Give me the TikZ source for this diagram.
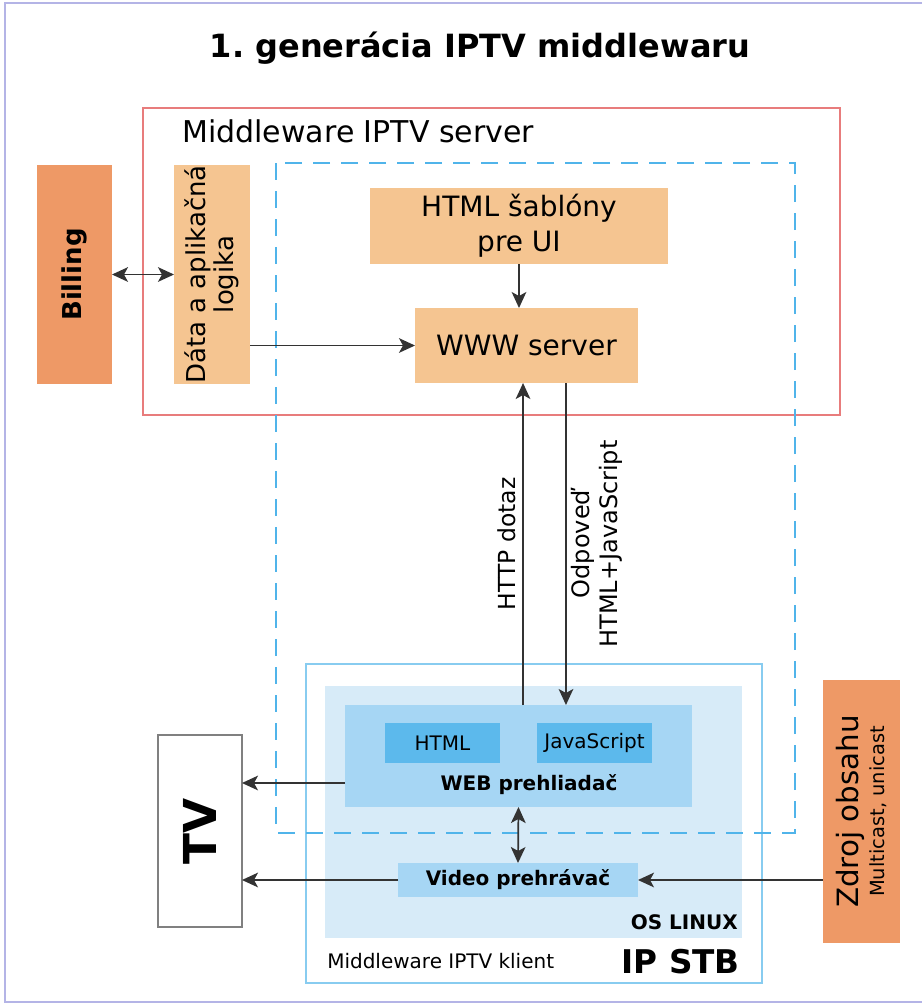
\documentclass[tikz,border=0pt]{standalone}
\usepackage{fontspec}
\setmainfont{DejaVu Sans}
\usetikzlibrary{arrows.meta}

\definecolor{salmon}{HTML}{EE9966}
\definecolor{peach}{HTML}{F5C591}
\definecolor{serverred}{HTML}{E87C7C}
\definecolor{dashblue}{HTML}{50B4EA}
\definecolor{stbblue}{HTML}{88CCF0}
\definecolor{linuxblue}{HTML}{D7EBF8}
\definecolor{webblue}{HTML}{A6D6F4}
\definecolor{codeblue}{HTML}{5CB9EC}
\definecolor{arrowgray}{HTML}{333333}
\definecolor{framelila}{HTML}{B4B4E6}

\newcommand{\fsz}[2]{\fontsize{#1}{#2}\selectfont}

\begin{document}
\begin{tikzpicture}[x=0.75pt,y=-0.75pt,
    blok/.style={rectangle,inner sep=0pt,outer sep=0pt},
    spoj/.style={draw=arrowgray,line width=1.3pt,-{Stealth[length=12pt,width=11pt,inset=3pt]}},
    dvojspoj/.style={spoj,{Stealth[length=12pt,width=11pt,inset=3pt]}-{Stealth[length=12pt,width=11pt,inset=3pt]}},
    popis/.style={inner sep=0pt,text=black}]
    \useasboundingbox (0,0) rectangle (922,1004);

    % outer frame and title
    \draw[framelila,line width=1.6pt] (922,3) -- (5,3) -- (5,1002) -- (922,1002);
    \node[popis,anchor=base,font={\fsz{24}{28}\bfseries}] (nadpis) at (480,57) {1.\ generácia IPTV middlewaru};

    % server side
    \draw[serverred,line width=1.5pt] (143,108) rectangle (840,415);
    \node[popis,anchor=base west,font={\fsz{22.5}{26}}] (serverlbl) at (182,142) {Middleware IPTV server};

    \node[blok,fill=salmon,minimum width=56.25pt,minimum height=164.25pt] (billing) at (74.5,274.5) {};
    \node[popis,rotate=90,font={\fsz{19.5}{24}\bfseries}] at (billing) {Billing};
    \node[blok,fill=peach,minimum width=57pt,minimum height=164.25pt] (logika) at (212,274.5) {};
    \node[popis,rotate=90,align=center,font={\fsz{19.5}{21}}] at (logika) {Dáta a aplikačná\\logika};

    \node[blok,fill=peach,minimum width=223.5pt,minimum height=57pt,align=center,font={\fsz{21}{26}}] (sablony) at (519,226)
        {HTML šablóny\\pre UI};
    \node[blok,fill=peach,minimum width=167.25pt,minimum height=56.25pt,font={\fsz{21}{25}}] (www) at (526.5,345.5)
        {WWW server};

    % IP STB
    \draw[stbblue,fill=white,line width=1.5pt] (306,664) rectangle (762,983);
    \fill[linuxblue] (325,686) rectangle (742,938);
    \node[blok,fill=webblue,minimum width=260.25pt,minimum height=76.5pt] (web) at (518.5,756) {};
    \node[blok,fill=codeblue,minimum width=86.25pt,minimum height=30pt,font={\fsz{15}{18}}] (html) at (442.5,743) {HTML};
    \node[blok,fill=codeblue,minimum width=86.25pt,minimum height=30pt,font={\fsz{15}{18}}] (js) at (594.5,743) {JavaScript};
    \node[popis,anchor=base,font={\fsz{15}{18}\bfseries}] (weblbl) at (529,790) {WEB prehliadač};
    \node[blok,fill=webblue,minimum width=180pt,minimum height=25.5pt,font={\fsz{15}{18}\bfseries}] (video) at (518,880)
        {Video prehrávač};
    \node[popis,anchor=base east,font={\fsz{15}{18}\bfseries}] (linuxlbl) at (738,929) {OS LINUX};
    \node[popis,anchor=base west,font={\fsz{15}{18}}] (klientlbl) at (327,968) {Middleware IPTV klient};
    \node[popis,anchor=base east,font={\fsz{24.5}{28}\bfseries}] (stblbl) at (740,973) {IP STB};

    % dashed web part, over the STB
    \draw[dashblue,line width=1.5pt,dash pattern=on 13pt off 8pt] (276,163) rectangle (795,833);

    % TV and content source
    \node[blok,draw=gray,line width=1.3pt,fill=white,minimum width=63pt,minimum height=144pt] (tv) at (200,831) {};
    \node[popis,rotate=90,font={\fsz{34}{40}\bfseries}] at (tv) {TV};
    \node[blok,fill=salmon,minimum width=57.75pt,minimum height=197.25pt] (zdroj) at (861.5,811.5) {};
    \node[popis,rotate=90,align=center] at (zdroj) {\fsz{22}{26}Zdroj obsahu\\[3pt]\fsz{14.6}{16}Multicast, unicast};

    % connectors
    \draw[dvojspoj] (billing.east) -- (logika.west);
    \draw[spoj] (logika.east |- www.west) -- (www.west);
    \draw[spoj] (sablony.south) -- (sablony.south |- www.north);
    \draw[spoj] ([xshift=3.4pt]web.north) -- ([xshift=3.4pt]web.north |- www.south)
        node[midway,rotate=90,anchor=south,inner sep=5pt,font={\fsz{17.6}{20}}] (dotaz) {HTTP dotaz};
    \draw[spoj] ([xshift=35.6pt]web.north |- www.south) -- ([xshift=35.6pt]web.north)
        node[midway,rotate=90,anchor=north,inner sep=3pt,align=center,font={\fsz{18}{21}}] (odpoved)
        {Odpoveď\\HTML+JavaScript};
    \draw[dvojspoj] (web.south) -- (video.north);
    \draw[spoj] ([yshift=-20.25pt]web.west) -- ([yshift=-20.25pt]web.west -| tv.east);
    \draw[spoj] (video.west) -- (video.west -| tv.east);
    \draw[spoj] (zdroj.west |- video.east) -- (video.east);
\end{tikzpicture}
\end{document}
